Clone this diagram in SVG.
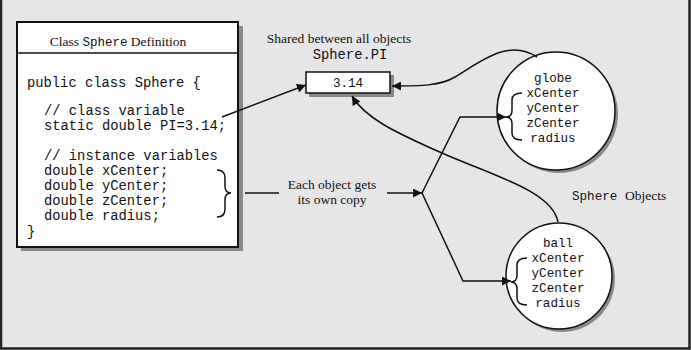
<svg xmlns="http://www.w3.org/2000/svg" width="691" height="350" viewBox="0 0 691 350">
<defs>
<style>
.serif{font-family:"Liberation Serif","Times New Roman",serif;fill:#111}
.mono{font-family:"Liberation Mono","Courier New",monospace;fill:#111}
.code{font-size:13.8px}
.obj{font-size:12.6px}
.conn{fill:none;stroke:#111;stroke-width:1.5}
.box{fill:#fff;stroke:#111;stroke-width:2}
.shadow{fill:#8a8a8a}
</style>
<marker id="ah" viewBox="0 0 10 10" refX="10" refY="5" markerWidth="10" markerHeight="9" markerUnits="userSpaceOnUse" orient="auto">
<path d="M0,0 L10,5 L0,10 Z" fill="#111"/>
</marker>
</defs>
<rect x="0" y="0" width="691" height="350" fill="#e6e6e8"/>
<path d="M1,0 V348.5 H689.5 V0" fill="none" stroke="#222" stroke-width="2.5"/>

<g id="class-def">
<rect class="shadow" x="21" y="26" width="222" height="225"/>
<rect class="box" x="17" y="22" width="221" height="225"/>
<line x1="17" y1="53" x2="238" y2="53" stroke="#111" stroke-width="1.5"/>
<text x="118" y="46" text-anchor="middle" class="serif" font-size="13.5">Class <tspan class="mono" font-size="12.5">Sphere</tspan> Definition</text>
<text class="mono code" x="27" y="87">public class Sphere {</text>
<text class="mono code" x="44" y="115">// class variable</text>
<text class="mono code" x="44" y="130">static double PI=3.14;</text>
<text class="mono code" x="44" y="160">// instance variables</text>
<text class="mono code" x="44" y="175">double xCenter;</text>
<text class="mono code" x="44" y="190">double yCenter;</text>
<text class="mono code" x="44" y="205">double zCenter;</text>
<text class="mono code" x="44" y="220">double radius;</text>
<text class="mono code" x="27" y="236">}</text>
<path class="conn" d="M217,170 Q225,170 225,178 L225,186 Q225,193 231,193 Q225,193 225,200 L225,209 Q225,217 217,217"/>
</g>

<g id="shared">
<text x="339" y="43" text-anchor="middle" class="serif" font-size="13.5">Shared between all objects</text>
<text x="350" y="59" text-anchor="middle" class="mono" font-size="13.8">Sphere.PI</text>
<rect class="shadow" x="309" y="75" width="85" height="22"/>
<rect x="306" y="72" width="84" height="21" fill="#fff" stroke="#111" stroke-width="1.5"/>
<text x="348" y="87" text-anchor="middle" class="mono" font-size="12.6">3.14</text>
</g>

<g id="copy-label">
<text x="332" y="189" text-anchor="middle" class="serif" font-size="13.5">Each object gets</text>
<text x="332" y="204" text-anchor="middle" class="serif" font-size="13.5">its own copy</text>
</g>

<g id="globe">
<circle class="shadow" cx="559" cy="114" r="59"/>
<circle cx="556" cy="111" r="59" fill="#fff" stroke="#111" stroke-width="1.5"/>
<text class="mono obj" x="553" y="82" text-anchor="middle">globe</text>
<text class="mono obj" x="553" y="97" text-anchor="middle">xCenter</text>
<text class="mono obj" x="553" y="112" text-anchor="middle">yCenter</text>
<text class="mono obj" x="553" y="127" text-anchor="middle">zCenter</text>
<text class="mono obj" x="553" y="142" text-anchor="middle">radius</text>
<path class="conn" d="M522,93 Q512,93 512,100 L512,110 Q512,117 506,117 Q512,117 512,124 L512,133 Q512,140 522,140"/>
</g>

<g id="ball">
<circle class="shadow" cx="562" cy="279" r="53"/>
<circle cx="559" cy="276" r="53" fill="#fff" stroke="#111" stroke-width="1.5"/>
<text class="mono obj" x="558" y="247" text-anchor="middle">ball</text>
<text class="mono obj" x="558" y="262" text-anchor="middle">xCenter</text>
<text class="mono obj" x="558" y="277" text-anchor="middle">yCenter</text>
<text class="mono obj" x="558" y="292" text-anchor="middle">zCenter</text>
<text class="mono obj" x="558" y="307" text-anchor="middle">radius</text>
<path class="conn" d="M527,258 Q517,258 517,265 L517,275 Q517,282 511,282 Q517,282 517,289 L517,298 Q517,305 527,305"/>
</g>

<g id="objects-label">
<text x="572" y="200" class="mono" font-size="12.6">Sphere <tspan class="serif" font-size="13.5">Objects</tspan></text>
</g>

<g id="connectors">
<path class="conn" d="M222,117 L306,85" marker-end="url(#ah)"/>
<path class="conn" d="M537,57 C508,38 480,62 455,77 C440,86 420,86 392,86" marker-end="url(#ah)"/>
<path class="conn" d="M558,222 C552,190 490,175 435,150 C395,132 365,118 352,96" marker-end="url(#ah)"/>
<path class="conn" d="M245,193 L279,193"/>
<path class="conn" d="M387,193 L422,193" marker-end="url(#ah)"/>
<path class="conn" d="M422,193 L460,117 L506,117" marker-end="url(#ah)"/>
<path class="conn" d="M422,193 L463,281 L511,281" marker-end="url(#ah)"/>
</g>
</svg>
